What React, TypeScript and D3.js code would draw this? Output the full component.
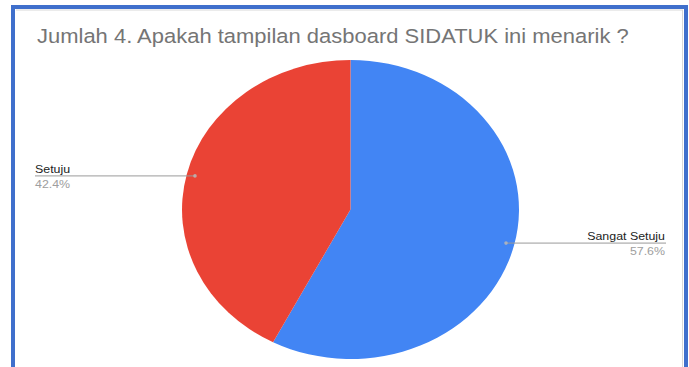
import React from "react";
import * as d3 from "d3";

const categories = ["Sangat Setuju", "Setuju"];
const values = [57.6, 42.4];
const percentLabels = ["57.6%", "42.4%"];
const colors = ["#4285F4", "#EA4335"];
const title = "Jumlah 4. Apakah tampilan dasboard SIDATUK ini menarik ?";

const W = 689;
const H = 367;
const cx = 350.5;
const cy = 209.5;
const r = 149.5;
const sx = 1.127; // horizontal stretch of the picture
const labelLayout = [
  { side: "right", textX: 665 },
  { side: "left", textX: 35 },
];
const dotFactor = 0.95;

export default function App() {
  const pie = d3.pie<number>().sort(null).value((d) => d)(values);
  const arc = d3.arc<d3.PieArcDatum<number>>().innerRadius(0).outerRadius(r);
  const font = "'Liberation Sans', Arial, sans-serif";
  return (
    <svg width={W} height={H} style={{ position: "absolute", left: 0, top: 0 }}>
      <rect x={0} y={0} width={W} height={H} fill="#fff" />
      <g transform={`translate(${cx},${cy}) scale(${sx},1)`}>
        {pie.map((p, i) => (
          <path key={i} d={arc(p) || ""} fill={colors[i]} />
        ))}
      </g>
      {pie.map((p, i) => {
        const l = labelLayout[i];
        const mid = (p.startAngle + p.endAngle) / 2;
        const dotX = cx + Math.sin(mid) * r * dotFactor * sx;
        const dotY = cy - Math.cos(mid) * r * dotFactor;
        const right = l.side === "right";
        const x1 = right ? dotX : l.textX;
        const x2 = right ? l.textX + 1 : dotX;
        const anchor = right ? "end" : "start";
        return (
          <g key={i}>
            <line x1={x1} x2={x2} y1={dotY} y2={dotY} stroke="#9a9a9a" strokeWidth={1} />
            <circle cx={dotX} cy={dotY} r={1.8} fill="#b8b8b8" opacity={0.85} />
            <g transform={`translate(${l.textX},${dotY}) scale(${sx},1)`}>
              <text x={0} y={-3} fontSize={11} fill="#222" fontFamily={font} textAnchor={anchor}>
                {categories[i]}
              </text>
              <text x={0} y={12} fontSize={11} fill="#9e9e9e" fontFamily={font} textAnchor={anchor}>
                {percentLabels[i]}
              </text>
            </g>
          </g>
        );
      })}
      <g transform={`translate(37,43) scale(${sx},1)`}>
        <text x={0} y={0} fontSize={19.5} fill="#757575" fontFamily={font}>
          {title}
        </text>
      </g>
      {/* frame */}
      <line x1={16} x2={683} y1={10} y2={10} stroke="#d8d8d8" strokeWidth={1} />
      <line x1={682.5} x2={682.5} y1={10} y2={H} stroke="#d8d8d8" strokeWidth={1} />
      <path d={`M13,${H} L13,7 L686,7 L686,${H}`} fill="none" stroke="#3f6fcc" strokeWidth={4} />
    </svg>
  );
}
